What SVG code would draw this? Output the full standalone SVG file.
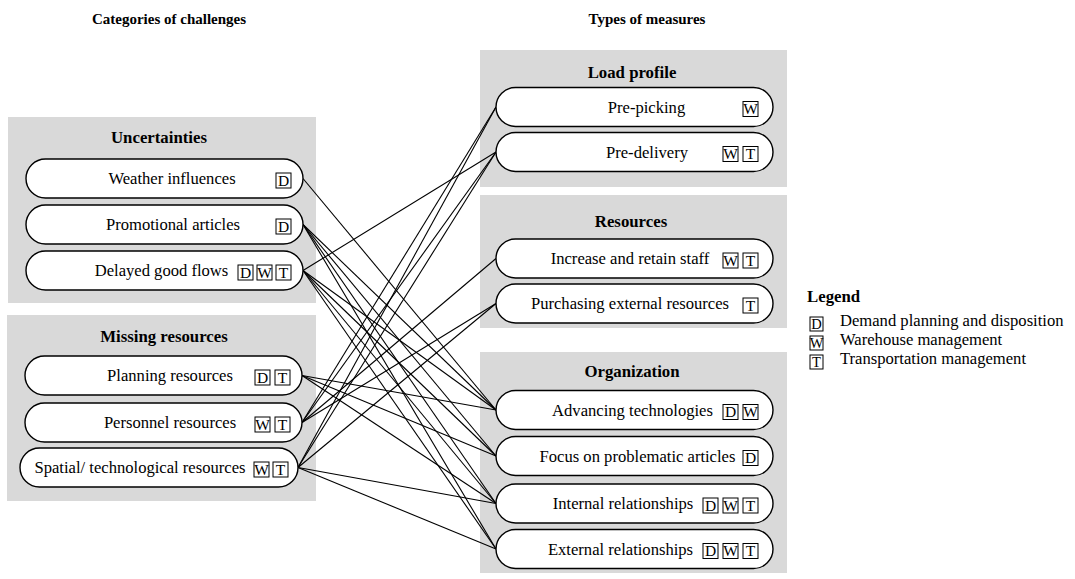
<svg xmlns="http://www.w3.org/2000/svg" width="1075" height="579" viewBox="0 0 1075 579">
<style>
.bg{fill:#d9d9d9;stroke:none}
.pill{fill:#fff;stroke:#000;stroke-width:1.4}
.hdr{font-family:"Liberation Serif","Times New Roman",serif;font-weight:bold;font-size:15px;text-anchor:middle;fill:#000}
.ttl{font-family:"Liberation Serif","Times New Roman",serif;font-weight:bold;font-size:16.8px;text-anchor:middle;fill:#000}
.lbl{font-family:"Liberation Serif","Times New Roman",serif;font-size:16.6px;text-anchor:middle;fill:#000}
.lgt{font-family:"Liberation Serif","Times New Roman",serif;font-size:16.6px;fill:#000}
.bx{fill:#fff;stroke:#000;stroke-width:1}
.bl{font-family:"Liberation Serif","Times New Roman",serif;font-size:15.5px;text-anchor:middle;fill:#000}
.cn line{stroke:#000;stroke-width:1.1}
</style>
<defs>
<g id="bD"><rect class="bx" x="0" y="0" width="15" height="15"/><text class="bl" x="7.5" y="12.8">D</text></g>
<g id="bW"><rect class="bx" x="0" y="0" width="15" height="15"/><text class="bl" x="7.5" y="12.8">W</text></g>
<g id="bT"><rect class="bx" x="0" y="0" width="15" height="15"/><text class="bl" x="7.5" y="12.8">T</text></g>
</defs>

<text class="hdr" x="169" y="24">Categories of challenges</text>
<text class="hdr" x="647" y="24">Types of measures</text>

<g id="grp-uncertainties">
<rect class="bg" x="8" y="117" width="308" height="186"/>
<text class="ttl" x="159" y="143">Uncertainties</text>
</g>
<g id="grp-missing">
<rect class="bg" x="7" y="315" width="309" height="186"/>
<text class="ttl" x="164" y="342">Missing resources</text>
</g>
<g id="grp-load">
<rect class="bg" x="480" y="50" width="307" height="137"/>
<text class="ttl" x="632" y="78">Load profile</text>
</g>
<g id="grp-resources">
<rect class="bg" x="480" y="195" width="307" height="133"/>
<text class="ttl" x="631" y="227">Resources</text>
</g>
<g id="grp-organization">
<rect class="bg" x="480" y="352" width="307" height="221"/>
<text class="ttl" x="632" y="377">Organization</text>
</g>

<g id="connectors" class="cn">
<line x1="303" y1="178.5" x2="496" y2="410"/>
<line x1="303" y1="224.5" x2="496" y2="410"/>
<line x1="303" y1="224.5" x2="496" y2="456"/>
<line x1="303" y1="224.5" x2="496" y2="503.5"/>
<line x1="303" y1="224.5" x2="496" y2="549"/>
<line x1="303" y1="270.5" x2="496" y2="152"/>
<line x1="303" y1="270.5" x2="496" y2="410"/>
<line x1="303" y1="270.5" x2="496" y2="456"/>
<line x1="303" y1="270.5" x2="496" y2="503.5"/>
<line x1="303" y1="270.5" x2="496" y2="549"/>
<line x1="302" y1="375.5" x2="496" y2="410"/>
<line x1="302" y1="375.5" x2="496" y2="456"/>
<line x1="302" y1="375.5" x2="496" y2="503.5"/>
<line x1="302" y1="422.5" x2="496" y2="107"/>
<line x1="302" y1="422.5" x2="496" y2="152"/>
<line x1="302" y1="422.5" x2="496" y2="258.5"/>
<line x1="302" y1="422.5" x2="496" y2="303.5"/>
<line x1="298" y1="467.5" x2="496" y2="107"/>
<line x1="298" y1="467.5" x2="496" y2="152"/>
<line x1="298" y1="467.5" x2="496" y2="303.5"/>
<line x1="298" y1="467.5" x2="496" y2="503.5"/>
<line x1="298" y1="467.5" x2="496" y2="549"/>
</g>

<g id="n-weather">
<rect class="pill" x="26" y="159" width="277" height="39" rx="19.5"/>
<text class="lbl" x="172" y="184">Weather influences</text>
<use href="#bD" x="276" y="173"/>
</g>
<g id="n-promotional">
<rect class="pill" x="26" y="205" width="277" height="39" rx="19.5"/>
<text class="lbl" x="173" y="230">Promotional articles</text>
<use href="#bD" x="276" y="219"/>
</g>
<g id="n-delayed">
<rect class="pill" x="26" y="251" width="277" height="39" rx="19.5"/>
<text class="lbl" x="161.5" y="276">Delayed good flows</text>
<use href="#bD" x="238" y="265"/>
<use href="#bW" x="257" y="265"/>
<use href="#bT" x="276" y="265"/>
</g>
<g id="n-planning">
<rect class="pill" x="25" y="356" width="277" height="39" rx="19.5"/>
<text class="lbl" x="170" y="381">Planning resources</text>
<use href="#bD" x="255" y="370"/>
<use href="#bT" x="275" y="370"/>
</g>
<g id="n-personnel">
<rect class="pill" x="25" y="403" width="277" height="39" rx="19.5"/>
<text class="lbl" x="170" y="428">Personnel resources</text>
<use href="#bW" x="255" y="417"/>
<use href="#bT" x="275" y="417"/>
</g>
<g id="n-spatial">
<rect class="pill" x="20" y="448" width="278" height="39" rx="19.5"/>
<text class="lbl" x="140" y="473">Spatial/ technological resources</text>
<use href="#bW" x="254" y="462"/>
<use href="#bT" x="273" y="462"/>
</g>

<g id="n-prepicking">
<rect class="pill" x="496" y="87.5" width="277" height="39" rx="19.5"/>
<text class="lbl" x="646.5" y="112.5">Pre-picking</text>
<use href="#bW" x="743" y="101.5"/>
</g>
<g id="n-predelivery">
<rect class="pill" x="496" y="132.5" width="277" height="39" rx="19.5"/>
<text class="lbl" x="647" y="157.5">Pre-delivery</text>
<use href="#bW" x="723" y="146.5"/>
<use href="#bT" x="743" y="146.5"/>
</g>
<g id="n-increase">
<rect class="pill" x="496" y="239" width="277" height="39" rx="19.5"/>
<text class="lbl" x="630" y="264">Increase and retain staff</text>
<use href="#bW" x="723" y="253"/>
<use href="#bT" x="743" y="253"/>
</g>
<g id="n-purchasing">
<rect class="pill" x="496" y="284" width="277" height="39" rx="19.5"/>
<text class="lbl" x="630" y="309">Purchasing external resources</text>
<use href="#bT" x="743" y="298"/>
</g>
<g id="n-advancing">
<rect class="pill" x="496" y="390.5" width="277" height="39" rx="19.5"/>
<text class="lbl" x="632.5" y="415.5">Advancing technologies</text>
<use href="#bD" x="723" y="404.5"/>
<use href="#bW" x="743" y="404.5"/>
</g>
<g id="n-focus">
<rect class="pill" x="496" y="436.5" width="277" height="39" rx="19.5"/>
<text class="lbl" x="637.5" y="461.5">Focus on problematic articles</text>
<use href="#bD" x="743" y="450.5"/>
</g>
<g id="n-internal">
<rect class="pill" x="496" y="484" width="277" height="39" rx="19.5"/>
<text class="lbl" x="623" y="509">Internal relationships</text>
<use href="#bD" x="703" y="498"/>
<use href="#bW" x="723" y="498"/>
<use href="#bT" x="743" y="498"/>
</g>
<g id="n-external">
<rect class="pill" x="496" y="529.5" width="277" height="39" rx="19.5"/>
<text class="lbl" x="620.5" y="554.5">External relationships</text>
<use href="#bD" x="703" y="543.5"/>
<use href="#bW" x="723" y="543.5"/>
<use href="#bT" x="743" y="543.5"/>
</g>

<g id="legend">
<text class="ttl" x="807" y="302" style="text-anchor:start">Legend</text>
<rect class="bx" x="810" y="317" width="13" height="14"/><text class="bl" x="816.5" y="329" style="font-size:14.5px">D</text>
<text class="lgt" x="840" y="326">Demand planning and disposition</text>
<rect class="bx" x="810" y="336" width="13" height="14"/><text class="bl" x="816.5" y="348" style="font-size:14.5px">W</text>
<text class="lgt" x="840" y="345">Warehouse management</text>
<rect class="bx" x="810" y="355" width="13" height="14"/><text class="bl" x="816.5" y="367" style="font-size:14.5px">T</text>
<text class="lgt" x="840" y="364">Transportation management</text>
</g>
</svg>
